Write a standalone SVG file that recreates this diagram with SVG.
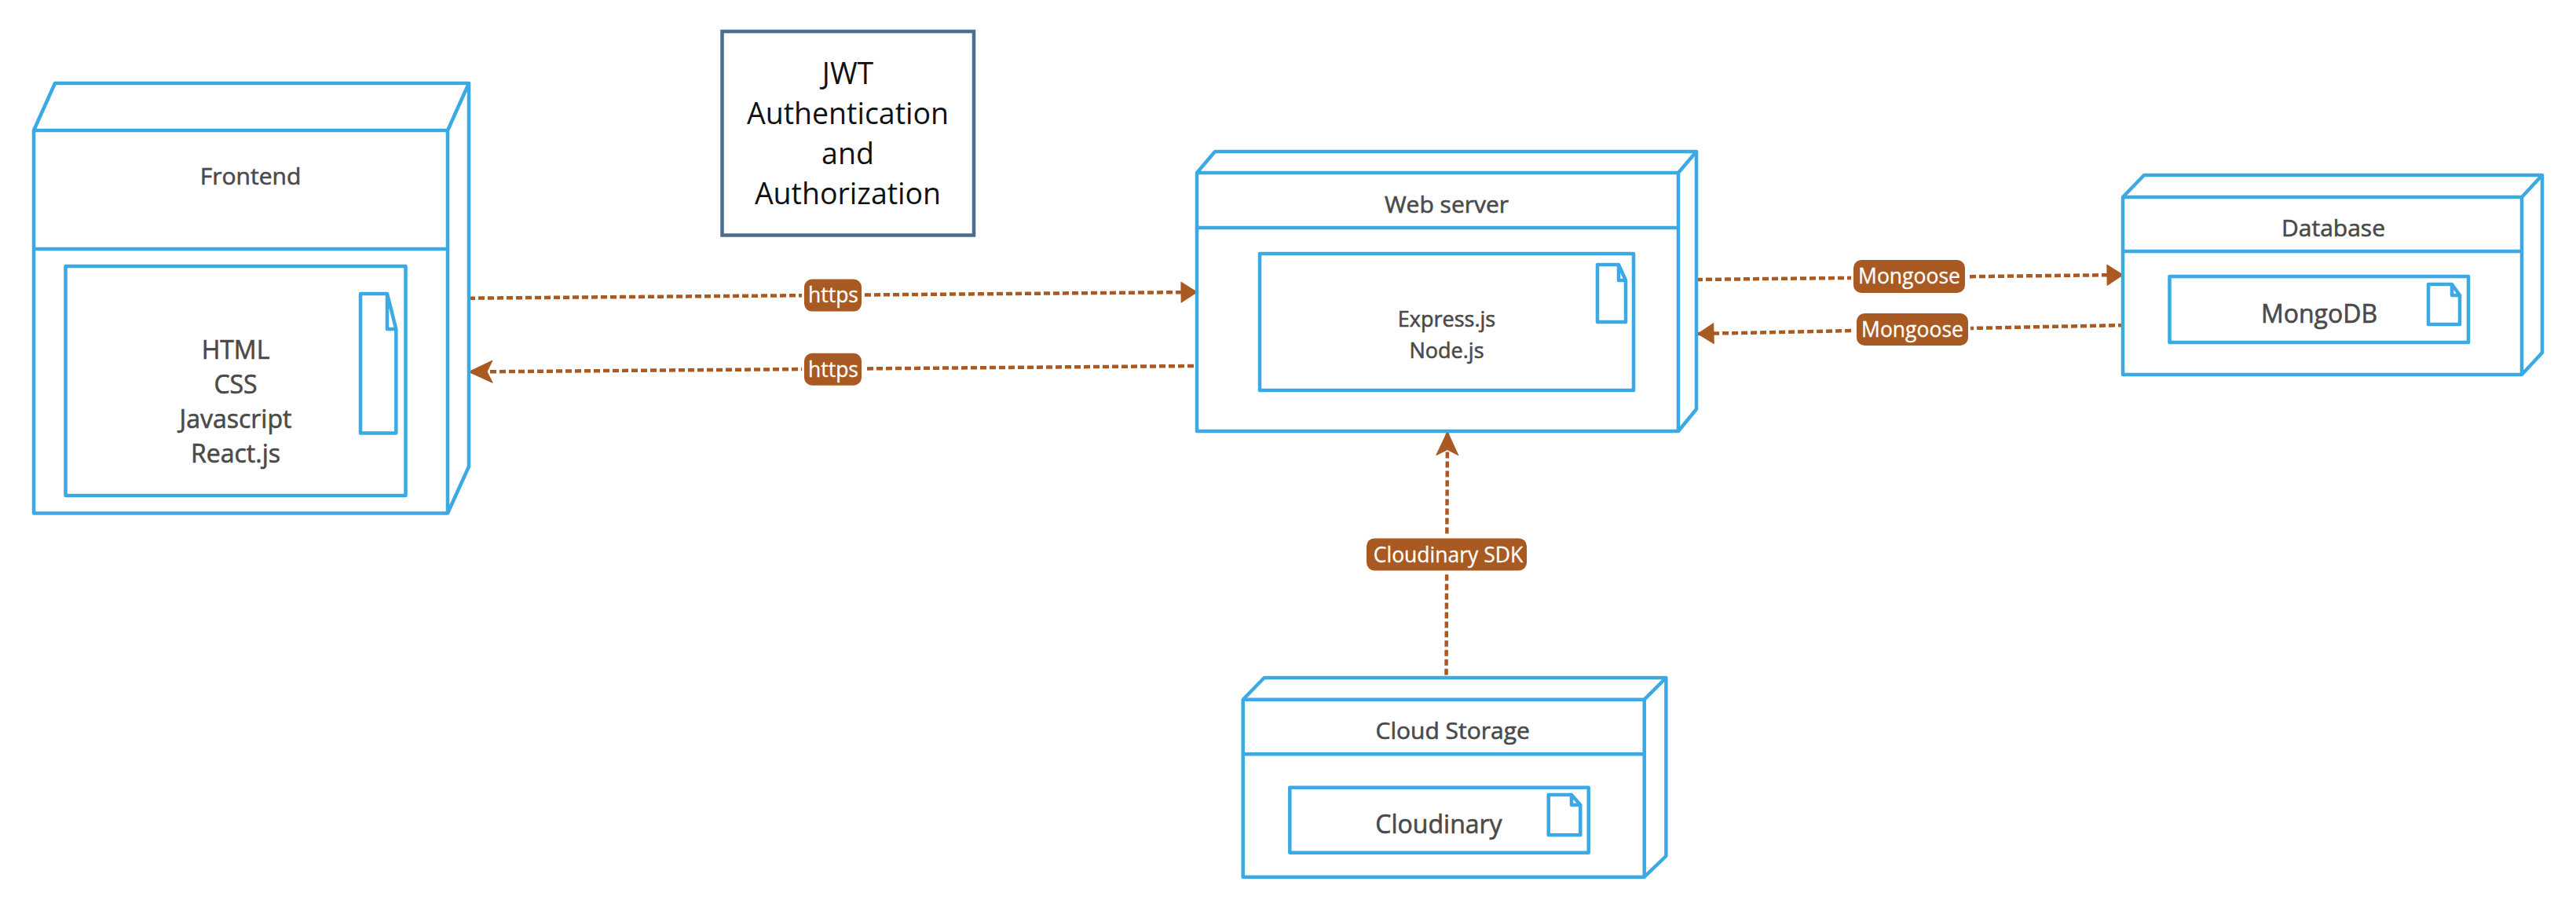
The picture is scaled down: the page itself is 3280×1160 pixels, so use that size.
<svg xmlns="http://www.w3.org/2000/svg" width="3280" height="1160" viewBox="0 0 3280 1160">
<style>
.s{fill:none;stroke:#3AA9E4;stroke-width:4.500;stroke-linejoin:round}
.w{fill:#fff;stroke:#3AA9E4;stroke-width:4.500;stroke-linejoin:round}
text{font-family:"Open Sans","Noto Sans",sans-serif;text-anchor:middle}
.t{fill:#4a4a4a;stroke:#4a4a4a;stroke-width:.6px;font-size:30px}
.b{font-size:32px}
.e{font-size:27px}
.j{fill:#111;font-size:37.500px}
.c{fill:none;stroke:#A85A22;stroke-width:4.500;stroke-dasharray:8 4}
.l{fill:#A85A22;stroke:#fff;stroke-width:6;paint-order:stroke}
.lt{fill:#fff;stroke:#fff;stroke-width:.3px;font-size:26.500px}
</style>
<defs>
<marker id="ah" markerUnits="userSpaceOnUse" viewBox="0 0 22 28" refX="21" refY="14" markerWidth="22" markerHeight="28" orient="auto"><path d="M1 1L21 14L1 27Z" fill="#A85A22" stroke="#A85A22" stroke-linejoin="round"/></marker>
<marker id="ac" markerUnits="userSpaceOnUse" viewBox="0 0 32 30" refX="31" refY="15" markerWidth="32" markerHeight="30" orient="auto"><path d="M1 1L31 15L1 29L8 15Z" fill="#A85A22" stroke="#A85A22" stroke-linejoin="round"/></marker>
</defs>
<g id="connectors">
<path class="c" marker-end="url(#ah)" d="M597 379.700L1524 372"/>
<path class="c" marker-end="url(#ac)" d="M1520 466L597 473.500"/>
<path class="c" marker-end="url(#ah)" d="M2160 356L2703 350"/>
<path class="c" marker-end="url(#ah)" d="M2705 414L2162 425"/>
<path class="c" marker-end="url(#ac)" d="M1841.500 859.600L1843 549.600"/>
<g id="label-https-1"><rect class="l" x="1024" y="355.600" width="73" height="41" rx="10"/><text class="lt" x="1061" y="385">https</text></g>
<g id="label-https-2"><rect class="l" x="1024" y="449.800" width="73" height="41" rx="10"/><text class="lt" x="1061" y="479.500">https</text></g>
<g id="label-mongoose-1"><rect class="l" x="2360" y="331" width="142" height="42" rx="10"/><text class="lt" x="2431" y="361">Mongoose</text></g>
<g id="label-mongoose-2"><rect class="l" x="2364" y="399" width="142" height="41" rx="10"/><text class="lt" x="2435" y="429.300">Mongoose</text></g>
<g id="label-cloudinary-sdk"><rect class="l" x="1740" y="685.400" width="204" height="41" rx="10"/><text class="lt" x="1844" y="716">Cloudinary SDK</text></g>
</g>
<g id="node-jwt">
<rect x="919.500" y="40" width="320.500" height="259.500" fill="#fff" stroke="#4A6E90" stroke-width="4.500"/>
<text class="j" x="1079.500" y="107.300">JWT</text><text class="j" x="1079.500" y="158">Authentication</text><text class="j" x="1079.500" y="209">and</text><text class="j" x="1079.500" y="260">Authorization</text>
</g>
<g id="node-frontend">
<path class="w" d="M43 166L70 106H597V594L570 653.500H43Z"/>
<path class="s" d="M43 166H570L597 106M570 166V653.500M43 317H570"/>
<text class="t" x="319" y="235">Frontend</text>
<g id="frontend-artifact">
<rect class="s" x="83.500" y="339" width="433" height="292"/>
<path class="s" d="M459 374H493L504.300 419V551.500H459ZM493 374V419H504.300"/>
<text class="t b" x="300" y="456.700">HTML</text><text class="t b" x="300" y="501">CSS</text><text class="t b" x="300" y="545">Javascript</text><text class="t b" x="300" y="588.500">React.js</text>
</g>
</g>
<g id="node-webserver">
<path class="w" d="M1524 220L1547 193H2160V521L2137 549H1524Z"/>
<path class="s" d="M1524 220H2137L2160 193M2137 220V549M1524 290H2137"/>
<text class="t" x="1842" y="270.700">Web server</text>
<g id="webserver-artifact">
<rect class="s" x="1604" y="323" width="476" height="174"/>
<path class="s" d="M2034 337H2061L2070 357V410H2034ZM2061 337V357H2070"/>
<text class="t e" x="1842" y="416">Express.js</text><text class="t e" x="1842" y="456">Node.js</text>
</g>
</g>
<g id="node-database">
<path class="w" d="M2703 251L2730 223H3237V449L3211 477H2703Z"/>
<path class="s" d="M2703 251H3211L3237 223M3211 251V477M2703 320H3211"/>
<text class="t" x="2971" y="300.700">Database</text>
<g id="database-artifact">
<rect class="s" x="2762.500" y="352" width="380.500" height="84"/>
<path class="s" d="M3092 362H3122L3132 376V413H3092ZM3122 362V376H3132"/>
<text class="t b" x="2953" y="410.700">MongoDB</text>
</g>
</g>
<g id="node-cloud">
<path class="w" d="M1582.700 890.700L1609.700 863H2121.400V1090L2093.700 1116.700H1582.700Z"/>
<path class="s" d="M1582.700 890.700H2093.700L2121.400 863M2093.700 890.700V1116.700M1582.700 960.300H2093.700"/>
<text class="t" x="1849.700" y="940.700">Cloud Storage</text>
<g id="cloud-artifact">
<rect class="s" x="1642.300" y="1002.700" width="380.400" height="83"/>
<path class="s" d="M1971.700 1012H2001L2012.300 1025V1063.300H1971.700ZM2001 1012V1025H2012.300"/>
<text class="t b" x="1832" y="1061">Cloudinary</text>
</g>
</g>
</svg>
